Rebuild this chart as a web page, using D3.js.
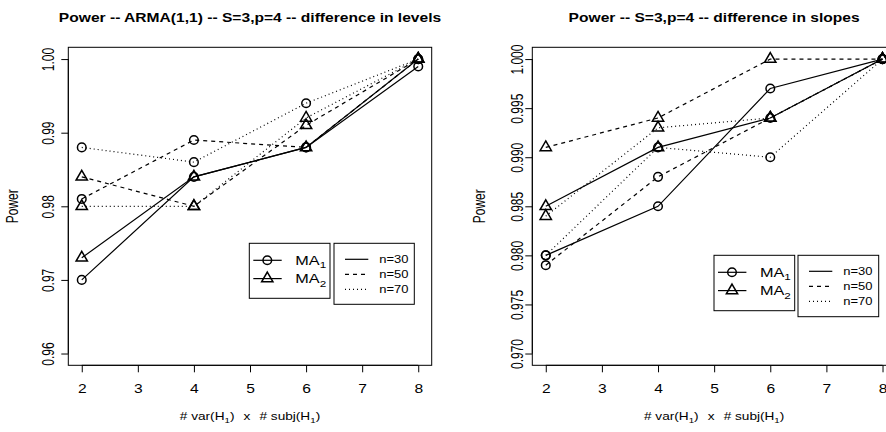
<!DOCTYPE html>
<html>
<head>
<meta charset="utf-8">
<script src="https://cdn.jsdelivr.net/npm/d3@7"></script>
<style>
  html, body { margin: 0; padding: 0; background: #fff; }
  svg { display: block; }
  text { font-family: "Liberation Sans", Arial, Helvetica, sans-serif; fill: #000; }
</style>
</head>
<body>
<svg id="chart" width="886" height="432"></svg>
<script>
// ---------------- data ----------------
const xValues = [2, 4, 6, 8];
const xTicks = [2, 3, 4, 5, 6, 7, 8];

const levelsTitle = "Power -- ARMA(1,1) -- S=3,p=4 -- difference in levels";
const levelsYTicks = [0.96, 0.97, 0.98, 0.99, 1.00];
const levelsYTickLabels = ["0.96", "0.97", "0.98", "0.99", "1.00"];
const levelsMA1n30 = [0.970, 0.984, 0.988, 0.999];
const levelsMA1n50 = [0.981, 0.989, 0.988, 1.000];
const levelsMA1n70 = [0.988, 0.986, 0.994, 1.000];
const levelsMA2n30 = [0.973, 0.984, 0.988, 1.000];
const levelsMA2n50 = [0.984, 0.980, 0.991, 1.000];
const levelsMA2n70 = [0.980, 0.980, 0.992, 1.000];

const slopesTitle = "Power -- S=3,p=4 -- difference in slopes";
const slopesYTicks = [0.970, 0.975, 0.980, 0.985, 0.990, 0.995, 1.000];
const slopesYTickLabels = ["0.970", "0.975", "0.980", "0.985", "0.990", "0.995", "1.000"];
const slopesMA1n30 = [0.980, 0.985, 0.997, 1.000];
const slopesMA1n50 = [0.979, 0.988, 0.994, 1.000];
const slopesMA1n70 = [0.980, 0.991, 0.990, 1.000];
const slopesMA2n30 = [0.985, 0.991, 0.994, 1.000];
const slopesMA2n50 = [0.991, 0.994, 1.000, 1.000];
const slopesMA2n70 = [0.984, 0.993, 0.994, 1.000];

const methodNames = ["MA", "MA"];
const methodSubs = ["1", "2"];
const sampleLabels = ["n=30", "n=50", "n=70"];
const yAxisTitle = "Power";

// ---------------- styles ----------------
const dashBySample = [null, "4,4", "1,3"];
const shapeByMethod = ["circle", "triangle"];
const SX = 1.3;   // horizontal stretch of the lettering, as in the reference

const svg = d3.select("#chart");
const FONT = "\"Liberation Sans\", Arial, Helvetica, sans-serif";

function markerPath(shape) {
  if (shape === "circle") {
    const r = 4.3;
    return `M${r},0A${r},${r} 0 1,1 ${-r},0A${r},${r} 0 1,1 ${r},0Z`;
  }
  const s = 4.2;
  const top = 1.555 * s, bot = 0.778 * s, hw = 1.347 * s;
  return `M0,${-top}L${hw},${bot}L${-hw},${bot}Z`;
}

function drawPanel(cfg) {
  const g = svg.append("g");
  const ext = v => { const d = v[1] - v[0]; return [v[0] - 0.04 * d, v[1] + 0.04 * d]; };
  const xDom = ext(d3.extent(xValues));
  const yDom = ext([cfg.yTicks[0], cfg.yTicks[cfg.yTicks.length - 1]]);
  const x = d3.scaleLinear().domain(xDom).range([cfg.left, cfg.right]);
  const y = d3.scaleLinear().domain(yDom).range([cfg.bottom, cfg.top]);

  // box
  g.append("rect")
    .attr("x", cfg.left).attr("y", cfg.top)
    .attr("width", cfg.right - cfg.left).attr("height", cfg.bottom - cfg.top)
    .attr("fill", "none").attr("stroke", "#000").attr("stroke-width", 1);

  // x axis
  const xa = g.append("g").attr("transform", `translate(0,${cfg.bottom})`)
    .call(d3.axisBottom(x).tickValues(xTicks).tickSize(7).tickPadding(12.5).tickFormat(d3.format("d")));
  xa.select(".domain").remove();
  xa.append("line").attr("x1", x(xTicks[0])).attr("x2", x(xTicks[xTicks.length - 1]))
    .attr("stroke", "#000").attr("stroke-width", 1);
  xa.selectAll("text").attr("font-size", 12).attr("font-family", FONT).attr("fill", "#000")
    .attr("transform", `scale(${SX},1)`);
  xa.selectAll("line").attr("stroke", "#000");

  // y axis
  const ya = g.append("g").attr("transform", `translate(${cfg.left},0)`)
    .call(d3.axisLeft(y).tickValues(cfg.yTicks).tickSize(7)
      .tickFormat((d, i) => cfg.yTickLabels[i]));
  ya.select(".domain").remove();
  ya.append("line").attr("y1", y(cfg.yTicks[0])).attr("y2", y(cfg.yTicks[cfg.yTicks.length - 1]))
    .attr("stroke", "#000").attr("stroke-width", 1);
  ya.selectAll("line").attr("stroke", "#000");
  ya.selectAll(".tick text")
    .attr("x", null).attr("dy", "0.35em")
    .attr("text-anchor", "middle")
    .attr("transform", `translate(${-cfg.yLabelOffset},0) scale(${SX},1) rotate(-90)`)
    .attr("font-size", 12).attr("font-family", FONT).attr("fill", "#000");

  // axis titles
  g.append("text")
    .attr("transform", `translate(${cfg.ylabX},${(cfg.top + cfg.bottom) / 2}) scale(${SX},1) rotate(-90)`)
    .attr("text-anchor", "middle").attr("dy", "0.35em")
    .attr("font-size", 12).text(yAxisTitle);

  const xl = g.append("text")
    .attr("transform", `translate(${(cfg.left + cfg.right) / 2},420) scale(${SX},1)`)
    .attr("text-anchor", "middle").attr("font-size", 10.5);
  xl.append("tspan").text("# var(H");
  xl.append("tspan").attr("dy", 3).attr("font-size", 7.5).text("1");
  xl.append("tspan").attr("dy", -3).text(")");
  xl.append("tspan").attr("dx", 7).text("x");
  xl.append("tspan").attr("dx", 7).text("# subj(H");
  xl.append("tspan").attr("dy", 3).attr("font-size", 7.5).text("1");
  xl.append("tspan").attr("dy", -3).text(")");

  // title
  g.append("text")
    .attr("transform", `translate(${(cfg.left + cfg.right) / 2},22) scale(${SX},1)`)
    .attr("text-anchor", "middle").attr("font-size", 12).attr("font-weight", "bold")
    .text(cfg.title);

  // series
  const line = d3.line().x((d, i) => x(xValues[i])).y(d => y(d));
  cfg.series.forEach((methodSeries, m) => {
    methodSeries.forEach((vals, s) => {
      g.append("path").datum(vals)
        .attr("d", line)
        .attr("fill", "none").attr("stroke", "#000").attr("stroke-width", 1.2)
        .attr("stroke-dasharray", dashBySample[s]);
      g.selectAll(null).data(vals).enter().append("path")
        .attr("d", markerPath(shapeByMethod[m]))
        .attr("transform", (d, i) => `translate(${x(xValues[i])},${y(d)})`)
        .attr("fill", "none").attr("stroke", "#000").attr("stroke-width", 1.5);
    });
  });

  // legend: methods
  const lm = cfg.legendMA;
  const lg1 = g.append("g").attr("transform", `translate(${lm.x},${lm.y})`);
  lg1.append("rect").attr("width", lm.w).attr("height", lm.h)
    .attr("fill", "#fff").attr("stroke", "#000").attr("stroke-width", 1);
  methodNames.forEach((nm, m) => {
    const ry = 17 + m * 18.3;
    lg1.append("line").attr("x1", 4).attr("x2", 32.4).attr("y1", ry).attr("y2", ry)
      .attr("stroke", "#000").attr("stroke-width", 1.2);
    lg1.append("path").attr("d", markerPath(shapeByMethod[m]))
      .attr("transform", `translate(18,${ry})`)
      .attr("fill", "none").attr("stroke", "#000").attr("stroke-width", 1.5);
    const t = lg1.append("text")
      .attr("transform", `translate(46,${ry}) scale(${SX},1)`)
      .attr("dy", "0.36em").attr("font-size", 12.5);
    t.append("tspan").text(nm);
    t.append("tspan").attr("dy", 3.5).attr("font-size", 9).text(methodSubs[m]);
  });

  // legend: samples
  const ln = cfg.legendN;
  const lg2 = g.append("g").attr("transform", `translate(${ln.x},${ln.y})`);
  lg2.append("rect").attr("width", ln.w).attr("height", ln.h)
    .attr("fill", "#fff").attr("stroke", "#000").attr("stroke-width", 1);
  sampleLabels.forEach((lab, s) => {
    const ry = 16 + s * 15;
    lg2.append("line").attr("x1", 11).attr("x2", 34.3).attr("y1", ry).attr("y2", ry)
      .attr("stroke", "#000").attr("stroke-width", 1.2)
      .attr("stroke-dasharray", dashBySample[s]);
    lg2.append("text")
      .attr("transform", `translate(45.3,${ry}) scale(${SX},1)`)
      .attr("dy", "0.36em").attr("font-size", 10).text(lab);
  });
}

drawPanel({
  title: levelsTitle,
  yTicks: levelsYTicks, yTickLabels: levelsYTickLabels,
  left: 68.3, right: 431.7, top: 47.3, bottom: 365.3,
  yLabelOffset: 20, ylabX: 13,
  series: [[levelsMA1n30, levelsMA1n50, levelsMA1n70], [levelsMA2n30, levelsMA2n50, levelsMA2n70]],
  legendMA: { x: 249.3, y: 243.3, w: 80.7, h: 55 },
  legendN: { x: 334, y: 243.3, w: 80.3, h: 61 }
});

drawPanel({
  title: slopesTitle,
  yTicks: slopesYTicks, yTickLabels: slopesYTickLabels,
  left: 532.3, right: 896, top: 47.3, bottom: 365.3,
  yLabelOffset: 15, ylabX: 480,
  series: [[slopesMA1n30, slopesMA1n50, slopesMA1n70], [slopesMA2n30, slopesMA2n50, slopesMA2n70]],
  legendMA: { x: 714, y: 255.3, w: 80.7, h: 55.4 },
  legendN: { x: 798, y: 255.3, w: 80.7, h: 61.4 }
});
</script>
</body>
</html>
